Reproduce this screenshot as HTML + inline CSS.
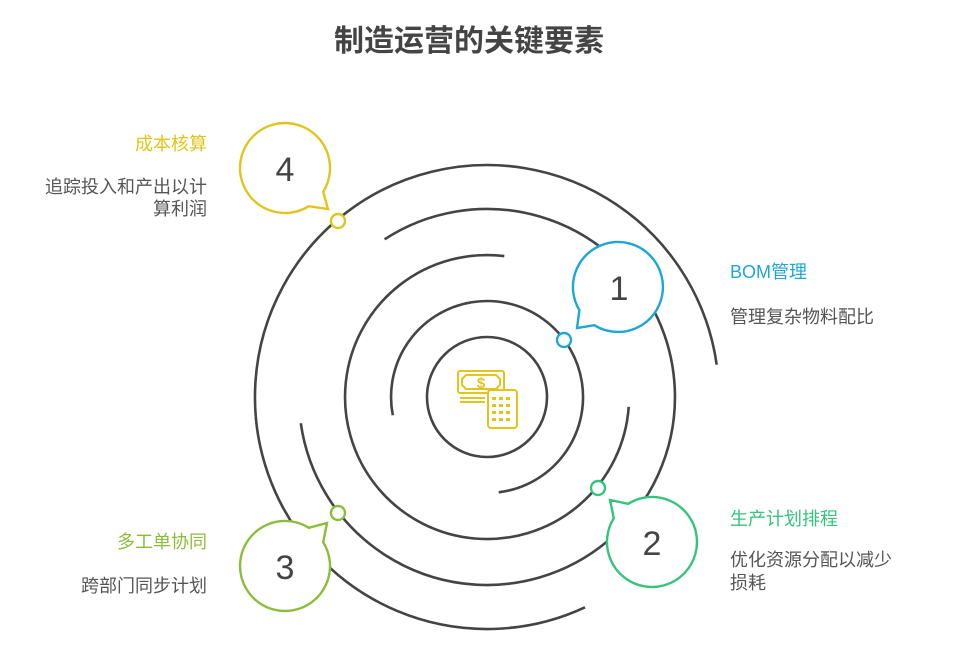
<!DOCTYPE html>
<html><head><meta charset="utf-8"><style>
body{margin:0;background:#fff;}
svg{display:block;}
text{font-family:"Liberation Sans","Noto Sans CJK SC",sans-serif;}
</style></head><body>
<svg width="954" height="670" viewBox="0 0 954 670" xmlns="http://www.w3.org/2000/svg">
<rect width="954" height="670" fill="#fff"/>
<text x="469" y="51" text-anchor="middle" font-size="30" font-weight="bold" fill="#444">制造运营的关键要素</text>
<g fill="none" stroke="#444" stroke-width="2.6" stroke-linecap="butt">
<circle cx="487" cy="397" r="60"/>
<path d="M392.8,415.3 A96,96 0 1 1 498.7,492.3"/>
<path d="M628.7,406.9 A142,142 0 1 1 504.3,256.1"/>
<path d="M384.6,239.3 A188,188 0 1 1 300.8,423.2"/>
<path d="M585.0,607.3 A232,232 0 1 1 716.7,364.7"/>
</g>
<g fill="none" stroke="#e2c41c" stroke-width="2" stroke-linejoin="round">
<rect x="458" y="371" width="46" height="22" rx="2"/>
<path d="M466,375 L496,375 L500,379 L500,385 L496,389 L466,389 L462,385 L462,379 Z"/>
<path d="M460,398 H485 M460,402 H485"/>
<rect x="488" y="390" width="29" height="38" rx="3" fill="#fff"/>
</g>
<text x="481" y="388" text-anchor="middle" font-size="15" font-weight="bold" fill="#e2c41c">$</text>
<g fill="#e2c41c">
<rect x="492" y="397" width="4" height="3"/><rect x="499" y="397" width="4" height="3"/><rect x="506" y="397" width="4" height="3"/>
<rect x="492" y="404" width="4" height="3"/><rect x="499" y="404" width="4" height="3"/><rect x="506" y="404" width="4" height="3"/>
<rect x="492" y="411" width="4" height="3"/><rect x="499" y="411" width="4" height="3"/><rect x="506" y="411" width="4" height="3"/>
<rect x="492" y="418" width="4" height="3"/><rect x="499" y="418" width="4" height="3"/><rect x="506" y="418" width="4" height="3"/>
</g>
<g stroke-width="2.4" fill="#fff">
<path d="M579.4,310.2 A45,45 0 1 1 594.2,325.2 L577,328 Z" stroke="#1ea6d9"/>
<path d="M628.2,503.8 A45,45 0 1 1 613.8,518.2 L610,500 Z" stroke="#34c47c"/>
<path d="M323.2,542.2 A45,45 0 1 1 308.8,527.8 L327,523 Z" stroke="#8cbd3a"/>
<path d="M308.8,206.2 A45,45 0 1 1 323.2,191.8 L328,209 Z" stroke="#e2c41c"/>
<circle cx="564" cy="340" r="7" stroke="#1ea6d9"/>
<circle cx="598" cy="488" r="7" stroke="#34c47c"/>
<circle cx="338" cy="513" r="7" stroke="#8cbd3a"/>
<circle cx="338" cy="221" r="7" stroke="#e2c41c"/>
</g>
<g font-size="34" fill="#444" text-anchor="middle">
<text x="619" y="300">1</text>
<text x="652" y="555">2</text>
<text x="285" y="579">3</text>
<text x="285" y="181">4</text>
</g>
<g font-size="18">
<text x="730" y="278" fill="#1ea6d9">BOM管理</text>
<text x="730" y="323" fill="#555">管理复杂物料配比</text>
<text x="730" y="525" fill="#34c47c">生产计划排程</text>
<text x="730" y="566" fill="#555">优化资源分配以减少</text>
<text x="730" y="589" fill="#555">损耗</text>
<text x="207" y="150" fill="#e2c41c" text-anchor="end">成本核算</text>
<text x="207" y="193" fill="#555" text-anchor="end">追踪投入和产出以计</text>
<text x="207" y="215" fill="#555" text-anchor="end">算利润</text>
<text x="207" y="548" fill="#8cbd3a" text-anchor="end">多工单协同</text>
<text x="207" y="592" fill="#555" text-anchor="end">跨部门同步计划</text>
</g>
</svg>
</body></html>
